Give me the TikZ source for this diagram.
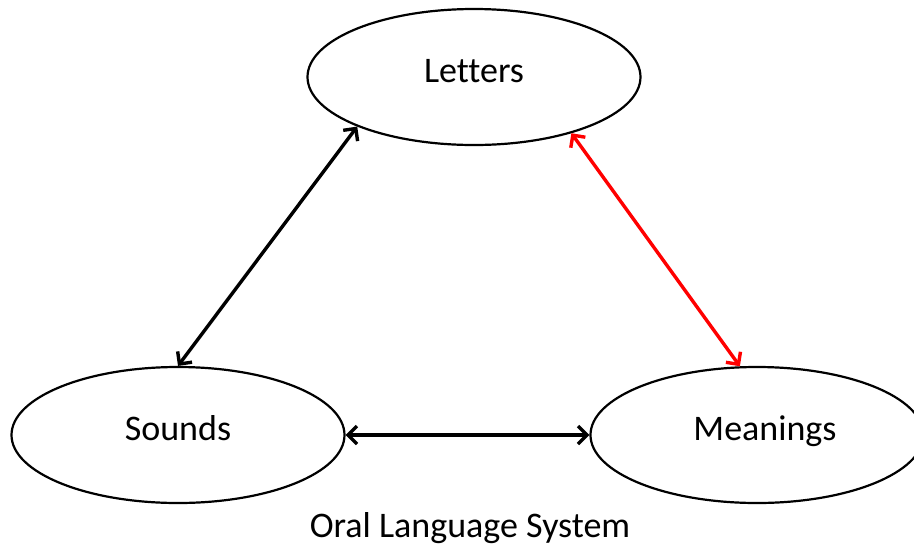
\documentclass[tikz,border=0pt]{standalone}
\usepackage{fontspec}
\setmainfont{Carlito}[Ligatures=NoCommon]
\usetikzlibrary{shapes.geometric,arrows.meta}
\begin{document}
\begin{tikzpicture}[x=1pt,y=-1pt,
  bubble/.style={ellipse,draw=black,line width=2.2pt,minimum width=333pt,minimum height=136pt,inner sep=0pt,
    font=\fontsize{36}{40}\selectfont,text height=24pt,text depth=13pt},
  tipend/.style={},
  link/.style={line width=3.4pt,{Straight Barb[length=9pt,width=18pt]}-{Straight Barb[length=9pt,width=18pt]}},
  caption/.style={font=\fontsize{36}{40}\selectfont,anchor=base,inner sep=0pt}]
\useasboundingbox[fill=white] (0,0) rectangle (914,550);
\node[bubble] (L) at (474,77) {Letters};
\node[bubble] (S) at (178,435) {Sounds};
\node[bubble] (M) at (757,435) {\hspace*{16pt}Meanings};
\draw[link] (L.203) -- (S.90);
\draw[link,red] (L.330) -- (M.104);
\draw[link] (S.east) -- (M.west);
\node[caption] (cap) at (470,537) {Oral Language System};
\end{tikzpicture}
\end{document}
